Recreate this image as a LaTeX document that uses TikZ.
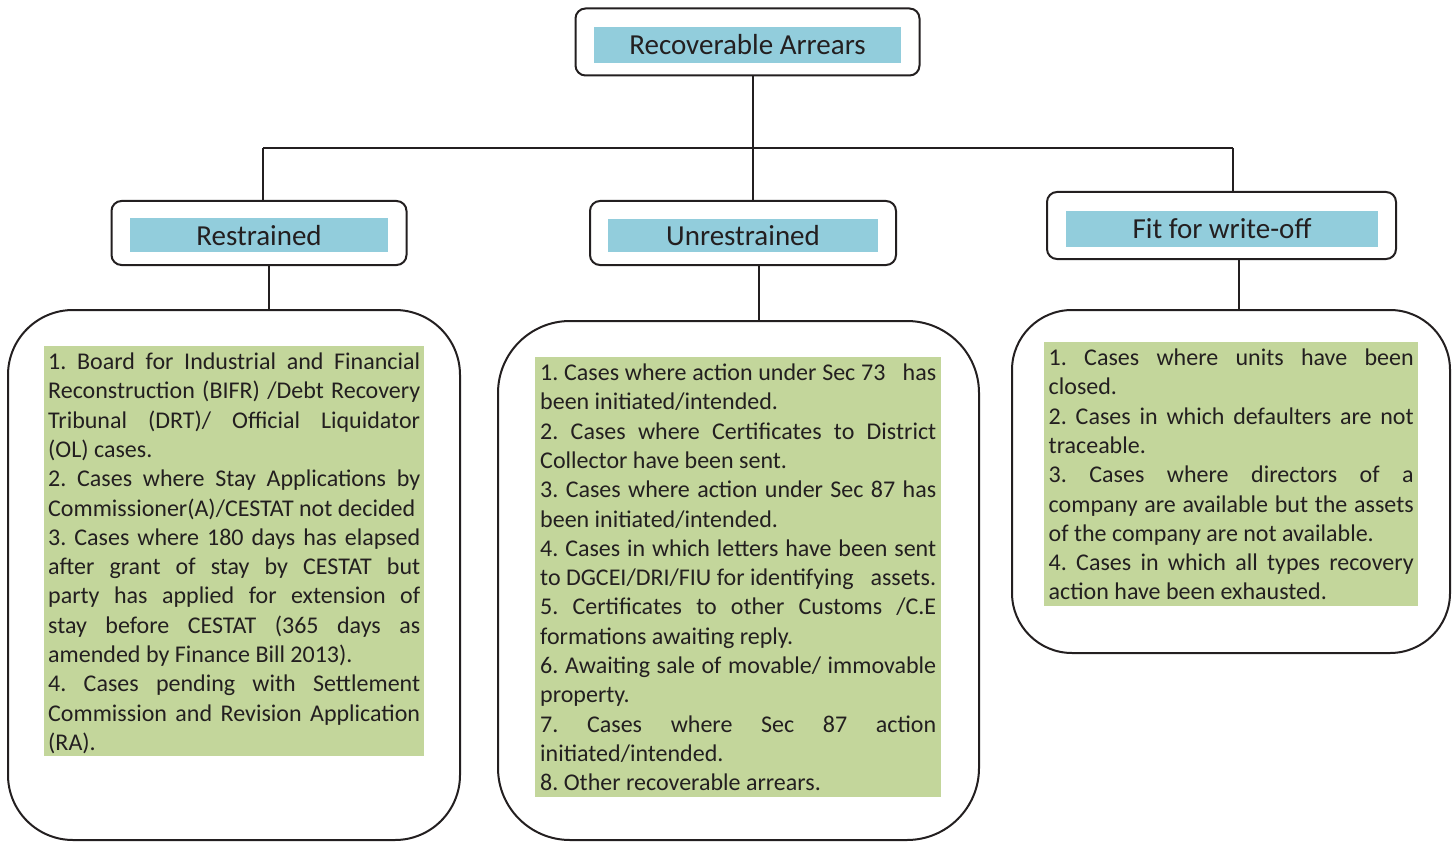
\documentclass[tikz,border=0pt]{standalone}
\usepackage{fontspec}
\setmainfont{Carlito}
\frenchspacing
\definecolor{cyanbox}{HTML}{92CDDC}
\definecolor{greenbox}{HTML}{C3D69B}
\definecolor{ink}{HTML}{231F20}
\newcommand\bstrut{\rule[-6pt]{0pt}{29.3pt}}
\newcommand\bodyfont{\fontsize{24}{29.3}\selectfont\frenchspacing\parindent=0pt\parskip=0pt\pretolerance=-1\tolerance=10000\hyphenpenalty=10000\relax}
\newcommand\titlefont{\fontsize{29}{34}\selectfont}
\begin{document}
\begin{tikzpicture}[x=1pt,y=-1pt,
  frame/.style={draw=ink,line width=2pt,rounded corners=10pt,inner sep=0pt},
  tag/.style={fill=cyanbox,inner sep=0pt,text=ink,font=\titlefont},
  big/.style={draw=ink,line width=2pt,inner sep=0pt},
  items/.style={fill=greenbox,inner ysep=0pt,text=ink,font=\bodyfont,align=justify,anchor=north west},
  conn/.style={draw=ink,line width=2pt}]
\useasboundingbox (0,0) rectangle (1455,842);

% title boxes
\node[frame,minimum width=344pt,minimum height=67pt] (rootbox) at (747.5,42) {};
\node[tag,minimum width=307pt,minimum height=36pt] (root) at (747.5,45) {Recoverable Arrears};

\node[frame,minimum width=295pt,minimum height=64pt] (resbox) at (259,233) {};
\node[tag,minimum width=258pt,minimum height=34pt] (res) at (259,235.5) {Restrained};

\node[frame,minimum width=306pt,minimum height=64pt] (unresbox) at (743,233) {};
\node[tag,minimum width=270pt,minimum height=33pt] (unres) at (743,235.5) {Unrestrained};

\node[frame,minimum width=349pt,minimum height=67pt] (fitbox) at (1221.5,225.5) {};
\node[tag,minimum width=312pt,minimum height=36pt] (fit) at (1222,229) {Fit for write-off};

% big boxes
\node[big,rounded corners=65pt,minimum width=452pt,minimum height=530pt] (big1) at (234,575) {};
\node[big,rounded corners=72pt,minimum width=481pt,minimum height=519pt] (big2) at (738.5,580.5) {};
\node[big,rounded corners=60pt,minimum width=438pt,minimum height=343pt] (big3) at (1231,481.5) {};

% item lists
\node[items,text width=372pt,inner xsep=4pt] (list1) at (44,346) {%
\bstrut 1. Board for Industrial and Financial\linebreak
Reconstruction (BIFR) /Debt Recovery\linebreak
Tribunal (DRT)/ Official Liquidator\linebreak
(OL) cases.\par
2. Cases where Stay Applications by\linebreak
Commissioner(A)/CESTAT not decided\par
3. Cases where 180 days has elapsed\linebreak
after grant of stay by CESTAT but\linebreak
party has applied for extension of\linebreak
stay before CESTAT (365 days as\linebreak
amended by Finance Bill 2013).\par
4. Cases pending with Settlement\linebreak
Commission and Revision Application\linebreak
(RA).\bstrut};

\node[items,text width=396pt,inner xsep=5pt] (list2) at (535,357) {%
\bstrut 1. Cases where action under Sec 73\ \ \ has\linebreak
been initiated/intended.\par
2. Cases where Certificates to District\linebreak
Collector have been sent.\par
3. Cases where action under Sec 87 has\linebreak
been initiated/intended.\par
4. Cases in which letters have been sent\linebreak
to DGCEI/DRI/FIU for identifying\hfill assets.\par
5. Certificates to other Customs /C.E\linebreak
formations awaiting reply.\par
6. Awaiting sale of movable/ immovable\linebreak
property.\par
7. Cases where Sec 87 action\linebreak
initiated/intended.\par
8. Other recoverable arrears.\bstrut};

\node[items,text width=365pt,inner xsep=4.5pt] (list3) at (1044,342) {%
\bstrut 1. Cases where units have been\linebreak
closed.\par
2. Cases in which defaulters are not\linebreak
traceable.\par
3. Cases where directors of a\linebreak
company are available but the assets\linebreak
of the company are not available.\par
4. Cases in which all types recovery\linebreak
action have been exhausted.\bstrut};

% connectors
\coordinate (jl) at (263,148);
\coordinate (jm) at (753,148);
\coordinate (jr) at (1233,148);
\coordinate (xl) at (269,0);
\coordinate (xm) at (759,0);
\coordinate (xr) at (1239,0);
\draw[conn] (rootbox.south -| jm) -- (jm);
\draw[conn] (jl) -- (jr);
\draw[conn] (jl) -- (resbox.north -| jl);
\draw[conn] (jm) -- (unresbox.north -| jm);
\draw[conn] (jr) -- (fitbox.north -| jr);
\draw[conn] (resbox.south -| xl) -- (big1.north -| xl);
\draw[conn] (unresbox.south -| xm) -- (big2.north -| xm);
\draw[conn] (fitbox.south -| xr) -- (big3.north -| xr);
\end{tikzpicture}
\end{document}
